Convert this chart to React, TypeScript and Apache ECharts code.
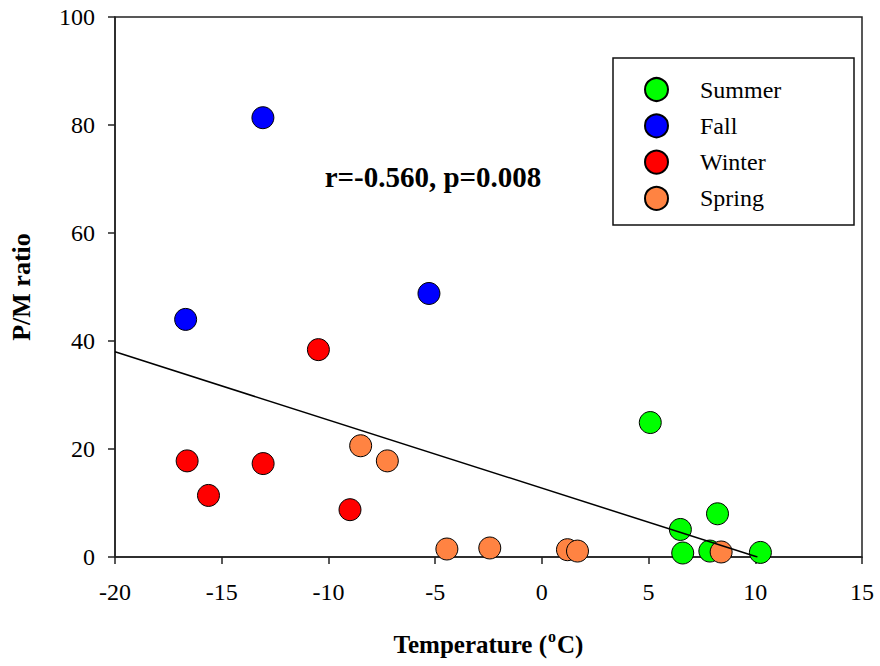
import React, { useEffect, useRef } from "react";
import * as echarts from "echarts";

const seriesNames = ["Summer", "Fall", "Winter", "Spring"];
const seriesColors = ["#00ff00", "#0000ff", "#ff0000", "#ff8342"];

const summer: [number, number][] = [
  [5.08, 24.9], [6.49, 5.1], [8.23, 8.0], [6.6, 0.74], [7.87, 1.1], [10.24, 0.85],
];
const fall: [number, number][] = [
  [-13.07, 81.35], [-16.69, 44.0], [-5.29, 48.8],
];
const winter: [number, number][] = [
  [-10.47, 38.4], [-16.62, 17.8], [-15.62, 11.4], [-13.06, 17.3], [-8.99, 8.76],
];
const spring: [number, number][] = [
  [-8.49, 20.6], [-7.24, 17.8], [-4.45, 1.48], [-2.44, 1.67], [1.2, 1.35], [1.67, 1.1], [8.4, 0.93],
];
const regressionLine: [number, number][] = [
  [-20, 38], [10.1, 0],
];
const annotationText = "r=-0.560, p=0.008";

const FONT = "Liberation Serif";

export default function App() {
  const ref = useRef<HTMLDivElement>(null);
  useEffect(() => {
    if (!ref.current) return;
    const chart = echarts.init(ref.current, undefined, { renderer: "svg" });
    const allData = [summer, fall, winter, spring];
    const tickRich = {
      a: { fontSize: 24, color: "#000", fontFamily: FONT, fontWeight: "normal", lineHeight: 26 },
    };
    const option: any = {
      animation: false,
      backgroundColor: "#ffffff",
      textStyle: { fontFamily: FONT },
      grid: {
        left: 113, right: 18, top: 17, bottom: 109,
        show: true, borderColor: "#222", borderWidth: 1.5, backgroundColor: "transparent",
      },
      xAxis: {
        type: "value", min: -20, max: 15, interval: 5,
        name: "{t|Temperature (}{s|o}{t|C)}",
        nameLocation: "middle", nameGap: 71,
        nameTextStyle: {
          fontFamily: FONT,
          rich: {
            t: { fontSize: 25, fontWeight: "bold", fontFamily: FONT, color: "#000", lineHeight: 32 },
            s: { fontSize: 16, fontWeight: "bold", fontFamily: FONT, color: "#000", lineHeight: 16, verticalAlign: "top", padding: [0, 1, 0, 1] },
          },
        },
        axisLine: { show: true, onZero: false, lineStyle: { color: "#222", width: 1.5 } },
        axisTick: { show: true, inside: false, length: 7, lineStyle: { color: "#222", width: 1.5 } },
        axisLabel: {
          fontSize: 24, fontFamily: FONT, color: "#000", margin: 22,
          formatter: (v: number) => `{a|${v}}`,
          rich: tickRich,
        },
        splitLine: { show: false },
      },
      yAxis: {
        type: "value", min: 0, max: 100, interval: 20,
        name: "P/M ratio",
        nameLocation: "middle", nameGap: 81,
        nameTextStyle: { fontSize: 26, fontWeight: "bold", fontFamily: FONT, color: "#000" },
        axisLine: { show: true, onZero: false, lineStyle: { color: "#222", width: 1.5 } },
        axisTick: { show: true, inside: false, length: 7, lineStyle: { color: "#222", width: 1.5 } },
        axisLabel: {
          fontSize: 24, fontFamily: FONT, color: "#000", margin: 20,
          formatter: (v: number) => `{a|${v}}`,
          rich: tickRich,
        },
        splitLine: { show: false },
      },
      legend: {
        data: seriesNames,
        orient: "vertical",
        left: 644, top: 77, padding: 0,
        itemWidth: 23, itemHeight: 23, itemGap: 11.3,
        icon: "circle",
        textStyle: { fontSize: 24, color: "#000", fontFamily: FONT, fontWeight: "normal", padding: [0, 0, 0, 27] },
        selectedMode: false,
      },
      graphic: [
        {
          type: "rect",
          shape: { x: 613, y: 58, width: 241, height: 167 },
          style: { fill: "none", stroke: "#111", lineWidth: 1.5 },
          z: 10,
        },
        {
          type: "text",
          x: 433, y: 177,
          style: {
            text: annotationText,
            fontSize: 29, fontWeight: "bold", fontFamily: FONT, fill: "#000",
            align: "center", verticalAlign: "middle",
          },
          z: 10,
        },
      ],
      series: [
        ...seriesNames.map((name, i) => ({
          name,
          type: "scatter",
          data: allData[i],
          symbol: "circle",
          symbolSize: 22,
          itemStyle: { color: seriesColors[i], borderColor: "#000", borderWidth: 1, opacity: 1 },
          emphasis: { disabled: true },
          z: 2,
        })),
        {
          name: "Regression",
          type: "line",
          data: regressionLine,
          symbol: "none",
          lineStyle: { color: "#000", width: 1.5 },
          z: 3,
          silent: true,
        },
      ],
    };
    chart.setOption(option);
    return () => chart.dispose();
  }, []);
  return (
    <div
      ref={ref}
      style={{ position: "fixed", left: 0, top: 0, width: 880, height: 666, background: "#fff" }}
    />
  );
}
